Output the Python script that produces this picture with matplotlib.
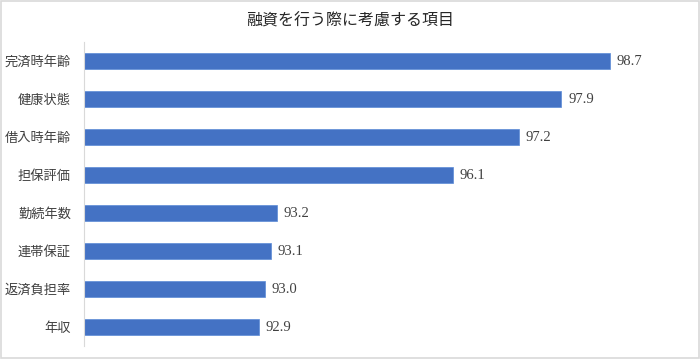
import matplotlib
matplotlib.use("Agg")
import matplotlib.pyplot as plt
from matplotlib.patches import Rectangle

plt.rcParams['font.family'] = ['Liberation Serif', 'Noto Sans CJK JP', 'DejaVu Sans']

categories = ["完済時年齢", "健康状態", "借入時年齢", "担保評価", "勤続年数", "連帯保証", "返済負担率", "年収"]
values = [98.7, 97.9, 97.2, 96.1, 93.2, 93.1, 93.0, 92.9]
title = "融資を行う際に考慮する項目"

fig = plt.figure(figsize=(7.0, 3.59), dpi=100)
ax = fig.add_axes([0.1193, 0.036, 0.8643, 0.847])

y = list(range(len(categories)))
ax.barh(y, values, left=0, height=0.42, color="#4472C4", edgecolor="#5B8BD6", linewidth=0.5)
ax.set_xlim(90, 100)
ax.set_ylim(len(categories) - 0.5, -0.5)
ax.set_yticks(y)
ax.set_yticklabels(categories, fontsize=9.5, color="#404040")
ax.tick_params(axis='y', length=0, pad=9)
ax.set_xticks([])
for s in ["top", "right", "bottom"]:
    ax.spines[s].set_visible(False)
ax.spines["left"].set_color("#D9D9D9")
ax.spines["left"].set_linewidth(0.8)

for yi, v in zip(y, values):
    ax.text(v + 0.11, yi, f"{v:.1f}", va="center", ha="left", fontsize=10.5, color="#404040")

fig.text(0.5, 0.94, title, ha="center", va="center", fontsize=11.5, color="#262626")
fig.patches.append(Rectangle((0.002, 0.003), 0.996, 0.994, transform=fig.transFigure,
                             fill=False, edgecolor="#D9D9D9", linewidth=1.2))

fig.savefig("out.png", dpi=100)
